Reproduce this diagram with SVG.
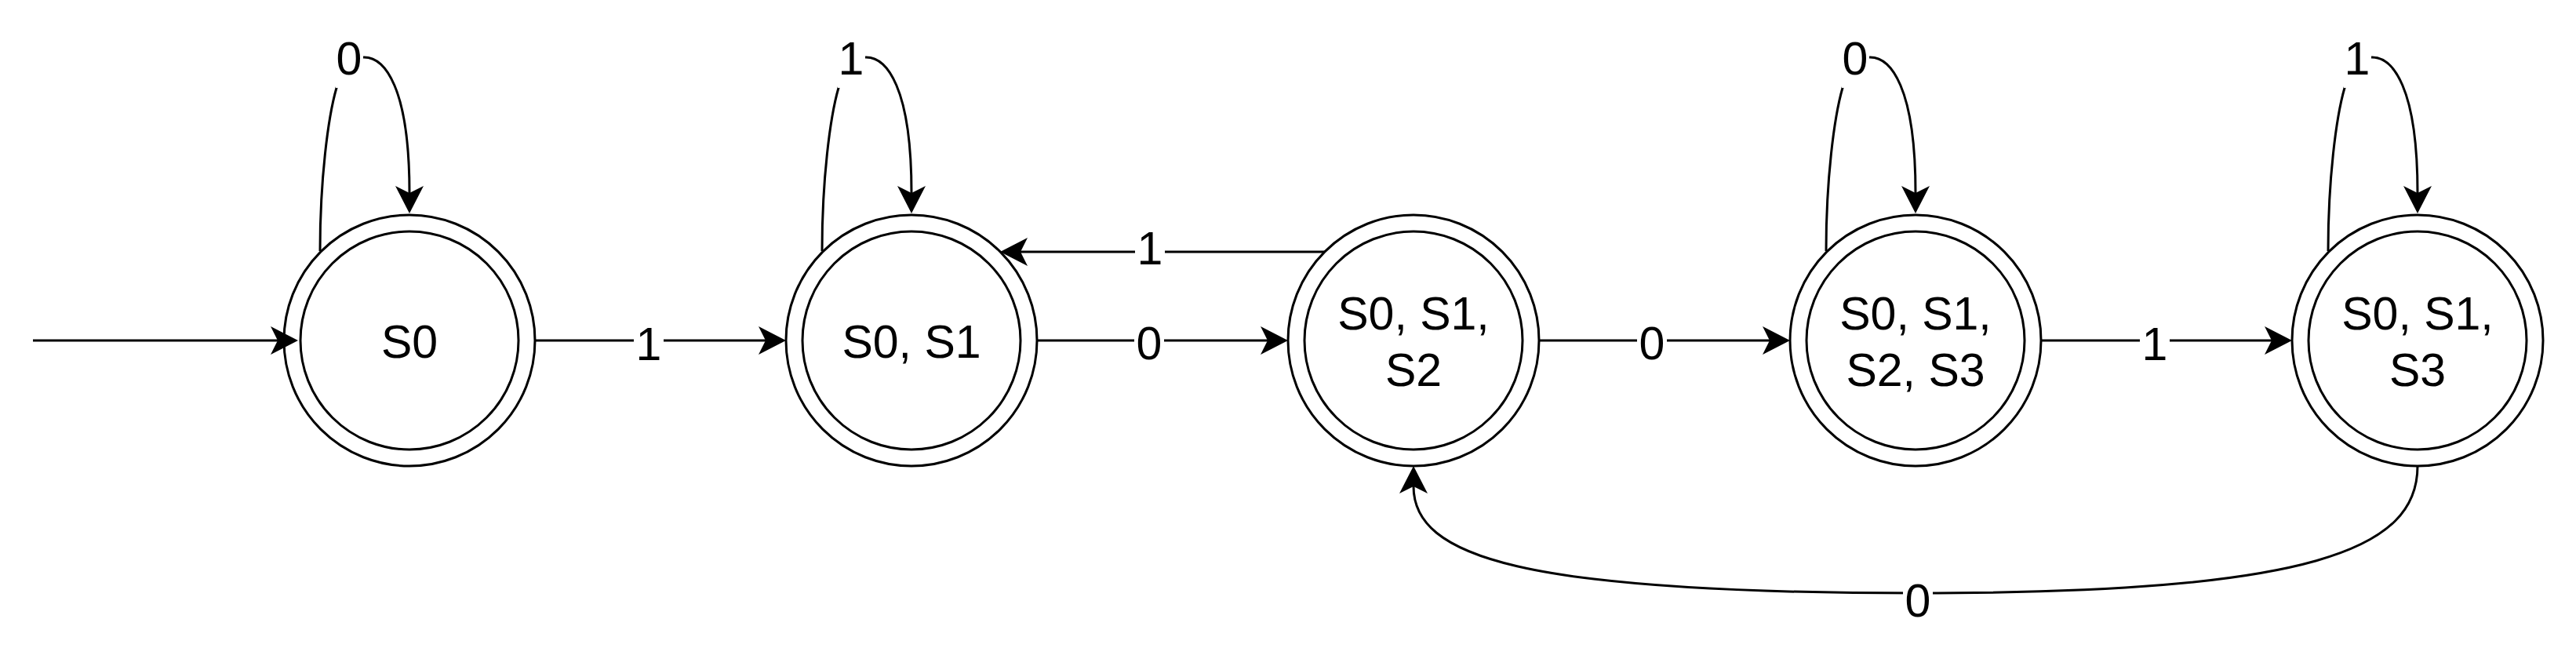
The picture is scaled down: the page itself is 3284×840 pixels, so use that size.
<svg xmlns="http://www.w3.org/2000/svg" width="3284" height="840" viewBox="0 0 3284 840">
<style>
.st{fill:none;stroke:#000;stroke-width:3}
.nd{fill:#fff;stroke:#000;stroke-width:3}
.tx{font-family:"Liberation Sans",Arial,sans-serif;font-size:59px;fill:#000;text-anchor:middle}
.lbg{fill:#fff;stroke:none}
</style>
<defs>
<marker id="arr" markerUnits="userSpaceOnUse" markerWidth="36" markerHeight="36" viewBox="0 0 35 36" refX="9" refY="18" orient="auto">
<path d="M35,18 L0,0 L9,18 L0,36 Z" fill="#000"/>
</marker>
</defs>
<rect width="3284" height="840" fill="#fff"/>
<g id="node-s0">
<circle class="nd" cx="522" cy="434" r="160"/>
<circle class="nd" cx="522" cy="434" r="139"/>
<text class="tx" x="522" y="456">S0</text>
</g>
<g id="node-s0s1">
<circle class="nd" cx="1162" cy="434" r="160"/>
<circle class="nd" cx="1162" cy="434" r="139"/>
<text class="tx" x="1162" y="456">S0, S1</text>
</g>
<g id="node-s0s1s2">
<circle class="nd" cx="1802" cy="434" r="160"/>
<circle class="nd" cx="1802" cy="434" r="139"/>
<text class="tx" x="1802" y="420">S0, S1,</text>
<text class="tx" x="1802" y="492">S2</text>
</g>
<g id="node-s0s1s2s3">
<circle class="nd" cx="2442" cy="434" r="160"/>
<circle class="nd" cx="2442" cy="434" r="139"/>
<text class="tx" x="2442" y="420">S0, S1,</text>
<text class="tx" x="2442" y="492">S2, S3</text>
</g>
<g id="node-s0s1s3">
<circle class="nd" cx="3082" cy="434" r="160"/>
<circle class="nd" cx="3082" cy="434" r="139"/>
<text class="tx" x="3082" y="420">S0, S1,</text>
<text class="tx" x="3082" y="492">S3</text>
</g>
<g id="connectors">
<path class="st" d="M42,434 H354" marker-end="url(#arr)"/>
<path class="st" d="M682,434 H976" marker-end="url(#arr)"/>
<path class="st" d="M1322,434 H1616" marker-end="url(#arr)"/>
<path class="st" d="M1962,434 H2256" marker-end="url(#arr)"/>
<path class="st" d="M2602,434 H2896" marker-end="url(#arr)"/>
<path class="st" d="M1689,321 H1301" marker-end="url(#arr)"/>
<path class="st" d="M3082,594 C3082,700 2950,756 2445,756 C1940,756 1802,710 1802,620" marker-end="url(#arr)"/>
<path class="st" d="M408,320 C408,230 418,150 429,112 C436,88 448,73 464,73 C490,73 522,110 522,246" marker-end="url(#arr)"/>
<path class="st" d="M1048,320 C1048,230 1058,150 1069,112 C1076,88 1088,73 1104,73 C1130,73 1162,110 1162,246" marker-end="url(#arr)"/>
<path class="st" d="M2328,320 C2328,230 2338,150 2349,112 C2356,88 2368,73 2384,73 C2410,73 2442,110 2442,246" marker-end="url(#arr)"/>
<path class="st" d="M2968,320 C2968,230 2978,150 2989,112 C2996,88 3008,73 3024,73 C3050,73 3082,110 3082,246" marker-end="url(#arr)"/>
<g id="labels">
<rect class="lbg" x="428" y="40" width="35" height="72"/><text class="tx" x="445" y="95">0</text>
<rect class="lbg" x="1068" y="40" width="35" height="72"/><text class="tx" x="1085" y="95">1</text>
<rect class="lbg" x="2348" y="40" width="35" height="72"/><text class="tx" x="2365" y="95">0</text>
<rect class="lbg" x="2988" y="40" width="35" height="72"/><text class="tx" x="3005" y="95">1</text>
<rect class="lbg" x="808" y="410" width="38" height="48"/><text class="tx" x="827" y="459">1</text>
<rect class="lbg" x="1446" y="410" width="38" height="48"/><text class="tx" x="1465" y="458">0</text>
<rect class="lbg" x="2087" y="410" width="38" height="48"/><text class="tx" x="2106" y="458">0</text>
<rect class="lbg" x="2728" y="410" width="38" height="48"/><text class="tx" x="2747" y="459">1</text>
<rect class="lbg" x="1447" y="297" width="38" height="48"/><text class="tx" x="1466" y="337">1</text>
<rect class="lbg" x="2426" y="732" width="38" height="48"/><text class="tx" x="2445" y="786">0</text>
</g>
</g>
</svg>
